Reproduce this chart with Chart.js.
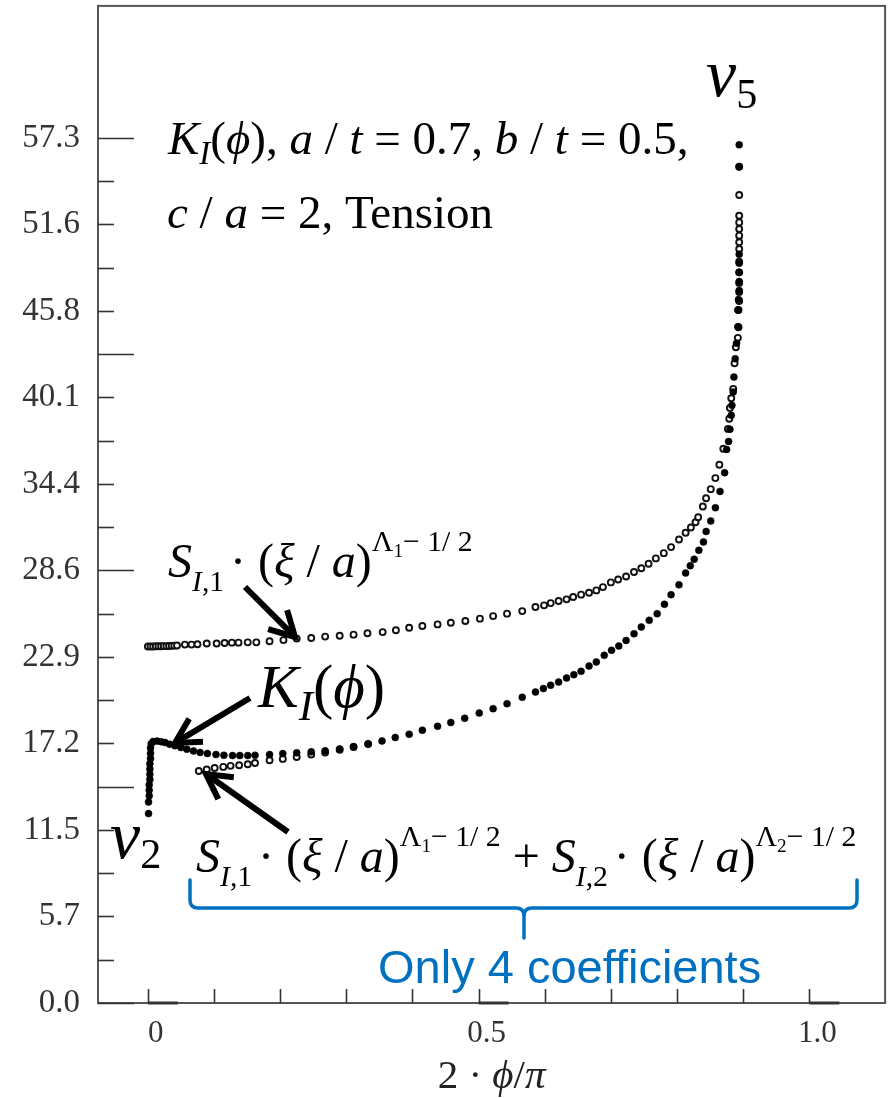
<!DOCTYPE html>
<html>
<head>
<meta charset="utf-8">
<script src="https://cdn.jsdelivr.net/npm/chart.js@4.4.1/dist/chart.umd.min.js"></script>
<style>
  html, body { margin: 0; padding: 0; background: #fff; }
  #wrap { width: 891px; height: 1098px; position: relative; }
</style>
</head>
<body>
<div id="wrap"><canvas id="kiChart"></canvas></div>
<script>
// K_I along the crack front, x = 2*phi/pi
const kiX = [0.001, 0.001, 0.002, 0.002, 0.002, 0.003, 0.003, 0.003, 0.003, 0.004, 0.004, 0.004, 0.005,
  0.008, 0.014, 0.020, 0.026, 0.033, 0.041, 0.050, 0.059, 0.069, 0.079, 0.090, 0.103, 0.115, 0.128, 0.139,
  0.151, 0.162, 0.184, 0.204, 0.225, 0.247, 0.268, 0.290, 0.311, 0.333, 0.354, 0.374, 0.395, 0.415, 0.438,
  0.458, 0.479, 0.501, 0.522, 0.543, 0.566, 0.586, 0.598, 0.609, 0.621, 0.633, 0.644, 0.655, 0.667, 0.678,
  0.690, 0.701, 0.712, 0.723, 0.735, 0.746, 0.758, 0.770, 0.781, 0.791, 0.803, 0.813, 0.820, 0.826, 0.833,
  0.840, 0.844, 0.851, 0.858, 0.865, 0.872, 0.875, 0.878, 0.880, 0.882, 0.883, 0.885, 0.886, 0.888, 0.890,
  0.892, 0.892, 0.893, 0.894, 0.894, 0.894, 0.894, 0.894, 0.894, 0.894];
const kiY = [12.55, 13.32, 13.73, 14.10, 14.45, 14.80, 15.15, 15.50, 15.85, 16.20, 16.55, 16.90, 17.18,
  17.33, 17.35, 17.31, 17.25, 17.14, 17.04, 16.92, 16.81, 16.70, 16.60, 16.52, 16.46, 16.41, 16.39, 16.39,
  16.39, 16.41, 16.46, 16.52, 16.57, 16.64, 16.71, 16.83, 16.98, 17.17, 17.36, 17.59, 17.80, 18.07, 18.33,
  18.58, 18.86, 19.21, 19.50, 19.83, 20.25, 20.60, 20.83, 21.05, 21.26, 21.53, 21.75, 21.97, 22.32, 22.59,
  23.03, 23.36, 23.65, 24.02, 24.46, 24.91, 25.35, 25.79, 26.41, 27.05, 27.70, 28.48, 28.97, 29.40, 29.99,
  30.54, 31.24, 31.93, 32.81, 33.89, 35.13, 36.67, 37.20, 38.00, 38.93, 39.59, 40.47, 41.46, 42.68, 43.70,
  44.80, 45.90, 46.60, 47.20, 47.80, 48.40, 49.00, 49.60, 55.40, 56.85];

// first singular term only
const oneTermX = [0.000, 0.004, 0.008, 0.012, 0.016, 0.020, 0.024, 0.028, 0.032, 0.036, 0.040, 0.044,
  0.056, 0.066, 0.075, 0.089, 0.104, 0.116, 0.127, 0.137, 0.151, 0.164, 0.184, 0.205, 0.225, 0.247, 0.268,
  0.290, 0.311, 0.332, 0.355, 0.375, 0.395, 0.415, 0.438, 0.458, 0.480, 0.502, 0.522, 0.543, 0.566, 0.586,
  0.599, 0.609, 0.621, 0.633, 0.643, 0.655, 0.667, 0.678, 0.688, 0.700, 0.711, 0.723, 0.735, 0.746, 0.757,
  0.768, 0.780, 0.791, 0.803, 0.813, 0.821, 0.828, 0.832, 0.839, 0.844, 0.851, 0.858, 0.864, 0.870, 0.877,
  0.879, 0.880, 0.882, 0.885, 0.887, 0.889, 0.892, 0.893, 0.893, 0.894, 0.894, 0.894, 0.894, 0.894, 0.894,
  0.894, 0.894, 0.894, 0.894, 0.894, 0.894, 0.894];
const oneTermY = [23.62, 23.62, 23.62, 23.63, 23.63, 23.63, 23.64, 23.64, 23.65, 23.66, 23.67, 23.68,
  23.74, 23.74, 23.76, 23.81, 23.81, 23.85, 23.87, 23.87, 23.89, 23.89, 23.96, 24.04, 24.14, 24.18, 24.27,
  24.33, 24.40, 24.49, 24.57, 24.69, 24.86, 24.97, 25.08, 25.19, 25.30, 25.46, 25.63, 25.79, 25.96, 26.23,
  26.34, 26.49, 26.63, 26.74, 26.89, 27.05, 27.18, 27.33, 27.55, 27.86, 28.05, 28.25, 28.55, 28.80, 29.10,
  29.45, 29.80, 30.20, 30.70, 31.15, 31.50, 31.85, 32.18, 32.89, 33.44, 34.04, 34.77, 35.65, 36.71, 38.03,
  38.70, 39.42, 40.06, 40.68, 42.38, 43.44, 44.06, 44.76, 45.91, 46.50, 47.10, 47.70, 48.40, 49.10, 49.95,
  50.39, 50.83, 51.27, 51.71, 52.15, 53.52, 55.39, 58.11];

// first two singular terms
const twoTermX = [0.077, 0.089, 0.101, 0.114, 0.125, 0.138, 0.151, 0.162, 0.184, 0.204, 0.225, 0.247,
  0.268, 0.290, 0.311, 0.333];
const twoTermY = [15.37, 15.47, 15.57, 15.64, 15.71, 15.75, 15.82, 15.90, 16.08, 16.17, 16.30, 16.46,
  16.59, 16.78, 16.96, 17.15];

// axis ticks
const yTickValues = [0, 5.73, 11.46, 17.19, 22.92, 28.65, 34.38, 40.11, 45.84, 51.57, 57.3];
const yTickLabels = ['0.0', '5.7', '11.5', '17.2', '22.9', '28.6', '34.4', '40.1', '45.8', '51.6', '57.3'];
const yLongTicks = [0, 14.325, 28.65, 42.975, 57.3];
const xTickValues = [0, 0.1, 0.2, 0.3, 0.4, 0.5, 0.6, 0.7, 0.8, 0.9, 1.0];
const xTickLabels = ['0', '', '', '', '', '0.5', '', '', '', '', '1.0'];

const toPoints = (xs, ys) => xs.map((x, i) => ({ x, y: ys[i] }));

const SERIF = '"Liberation Serif", "Times New Roman", serif';
const BLUE = '#0070C0';

// draw a run of mixed italic / upright / shifted pieces, returns end x
function drawRich(ctx, x, y, size, parts) {
  let cx = x;
  parts.forEach(p => {
    const s = size * (p.k || 1);
    ctx.font = (p.i ? 'italic ' : '') + s + 'px ' + SERIF;
    ctx.fillText(p.t, cx, y + (p.dy || 0) * size);
    cx += ctx.measureText(p.t).width + (p.g || 0) * size;
  });
  return cx;
}

function drawArrow(ctx, x1, y1, x2, y2) {
  const ang = Math.atan2(y2 - y1, x2 - x1);
  const head = 28;
  ctx.beginPath();
  ctx.moveTo(x1, y1);
  ctx.lineTo(x2 - Math.cos(ang) * 4, y2 - Math.sin(ang) * 4);
  ctx.stroke();
  ctx.beginPath();
  ctx.moveTo(x2 - head * Math.cos(ang - 0.5), y2 - head * Math.sin(ang - 0.5));
  ctx.lineTo(x2, y2);
  ctx.lineTo(x2 - head * Math.cos(ang + 0.5), y2 - head * Math.sin(ang + 0.5));
  ctx.stroke();
}

const sTerm = (idx, lam) => [
  { t: 'S', i: true },
  { t: 'I', i: true, k: 0.62, dy: 0.3 },
  { t: ',' + idx, k: 0.62, dy: 0.3, g: 0.12 },
  { t: '\u00b7 (' },
  { t: '\u03be', i: true },
  { t: ' / ' },
  { t: 'a', i: true },
  { t: ')' },
  { t: '\u039b', k: 0.62, dy: -0.55 },
  { t: lam, k: 0.4, dy: -0.42 },
  { t: '\u2212 1/ 2', k: 0.62, dy: -0.55 }
];

const overlay = {
  id: 'overlay',
  afterDraw(chart) {
    const { ctx, chartArea: a, scales: { x, y } } = chart;
    ctx.save();

    // frame
    ctx.strokeStyle = '#555';
    ctx.lineWidth = 2;
    ctx.strokeRect(a.left, a.top, a.right - a.left, a.bottom - a.top);

    // inward ticks on y, minor ticks halfway between labels
    ctx.strokeStyle = '#333';
    ctx.lineWidth = 1.6;
    const yAll = [];
    yTickValues.forEach((v, i) => {
      yAll.push(v);
      if (i < yTickValues.length - 1) yAll.push((v + yTickValues[i + 1]) / 2);
    });
    yAll.forEach(v => {
      const long = yLongTicks.some(l => Math.abs(l - v) < 0.01);
      const py = Math.round(y.getPixelForValue(v)) + 0.5;
      ctx.beginPath();
      ctx.moveTo(a.left, py);
      ctx.lineTo(a.left + (long ? 36 : 16), py);
      ctx.stroke();
    });

    // inward ticks on x
    xTickValues.forEach(v => {
      const px = Math.round(x.getPixelForValue(v)) + 0.5;
      ctx.beginPath();
      ctx.moveTo(px, a.bottom);
      ctx.lineTo(px, a.bottom - 14);
      ctx.stroke();
    });
    ctx.lineWidth = 3;
    [0, 0.5, 1.0].forEach(v => {
      const px = x.getPixelForValue(v);
      ctx.beginPath();
      ctx.moveTo(px, a.bottom);
      ctx.lineTo(px + 30, a.bottom);
      ctx.stroke();
    });

    // x title
    ctx.fillStyle = '#222';
    ctx.textBaseline = 'alphabetic';
    ctx.textAlign = 'left';
    const titleParts = [{ t: '2 \u00b7 ' }, { t: '\u03d5', i: true }, { t: '/' }, { t: '\u03c0', i: true }];
    ctx.globalAlpha = 0;
    const tw = drawRich(ctx, 0, 0, 41, titleParts);
    ctx.globalAlpha = 1;
    drawRich(ctx, (a.left + a.right) / 2 - tw / 2, 1088, 41, titleParts);

    // annotations
    ctx.fillStyle = '#000';
    drawRich(ctx, 168, 154, 47, [
      { t: 'K', i: true }, { t: 'I', i: true, k: 0.7, dy: 0.22 }, { t: '(' }, { t: '\u03d5', i: true },
      { t: '), ' }, { t: 'a', i: true }, { t: ' / ' }, { t: 't', i: true }, { t: ' = 0.7, ' },
      { t: 'b', i: true }, { t: ' / ' }, { t: 't', i: true }, { t: ' = 0.5,' }
    ]);
    drawRich(ctx, 167, 228, 47, [
      { t: 'c', i: true }, { t: ' / ' }, { t: 'a', i: true }, { t: ' = 2, Tension' }
    ]);

    drawRich(ctx, 706, 96, 68, [{ t: '\u03bd', i: true }, { t: '5', k: 0.62, dy: 0.18 }]);
    drawRich(ctx, 110, 858, 68, [{ t: '\u03bd', i: true }, { t: '2', k: 0.62, dy: 0.14 }]);

    drawRich(ctx, 168, 577, 48, sTerm('1', '1'));
    drawRich(ctx, 258, 707, 61, [
      { t: 'K', i: true }, { t: 'I', i: true, k: 0.7, dy: 0.22 }, { t: '(' }, { t: '\u03d5', i: true }, { t: ')' }
    ]);
    const endX = drawRich(ctx, 196, 872, 48, sTerm('1', '1'));
    drawRich(ctx, endX, 872, 48, [{ t: ' + ' }].concat(sTerm('2', '2')));

    // arrows
    ctx.strokeStyle = '#000';
    ctx.lineWidth = 6;
    ctx.lineCap = 'butt';
    ctx.lineJoin = 'miter';
    drawArrow(ctx, 245, 587, 295, 637);
    drawArrow(ctx, 250, 698, 175, 743);
    drawArrow(ctx, 288, 832, 206, 774);

    // brace under the two-term label
    ctx.strokeStyle = BLUE;
    ctx.lineWidth = 3.5;
    ctx.lineCap = 'round';
    ctx.beginPath();
    ctx.moveTo(190, 880);
    ctx.lineTo(190, 900);
    ctx.quadraticCurveTo(190, 908, 198, 908);
    ctx.lineTo(516, 908);
    ctx.quadraticCurveTo(524, 908, 524, 916);
    ctx.lineTo(524, 938);
    ctx.moveTo(524, 916);
    ctx.quadraticCurveTo(524, 908, 532, 908);
    ctx.lineTo(849, 908);
    ctx.quadraticCurveTo(857, 908, 857, 900);
    ctx.lineTo(857, 880);
    ctx.stroke();

    ctx.fillStyle = BLUE;
    ctx.font = '47px "Liberation Sans", Arial, sans-serif';
    ctx.fillText('Only 4 coefficients', 378, 983);

    ctx.restore();
  }
};

new Chart(document.getElementById('kiChart'), {
  type: 'scatter',
  data: {
    datasets: [
      {
        label: 'K_I',
        data: toPoints(kiX, kiY),
        pointRadius: 3.5,
        pointBackgroundColor: '#000',
        pointBorderColor: '#000',
        pointBorderWidth: 0.5
      },
      {
        label: 'two terms',
        data: toPoints(twoTermX, twoTermY),
        pointRadius: 3,
        pointBackgroundColor: '#fff',
        pointBorderColor: '#111',
        pointBorderWidth: 1.9
      },
      {
        label: 'one term',
        data: toPoints(oneTermX, oneTermY),
        pointRadius: 3,
        pointBackgroundColor: '#fff',
        pointBorderColor: '#111',
        pointBorderWidth: 1.9
      }
    ]
  },
  options: {
    responsive: true,
    maintainAspectRatio: false,
    animation: false,
    events: [],
    layout: { padding: { top: 5, right: 4, left: 0, bottom: 0 } },
    plugins: { legend: { display: false }, tooltip: { enabled: false } },
    scales: {
      x: {
        type: 'linear',
        min: -0.0754,
        max: 1.1146,
        grid: { display: false, drawTicks: false },
        border: { display: false },
        afterBuildTicks: s => { s.ticks = xTickValues.map(v => ({ value: v })); },
        afterFit: s => { s.height = 95; s.paddingLeft = 0; s.paddingRight = 0; },
        ticks: {
          autoSkip: false,
          maxRotation: 0,
          padding: 12,
          labelOffset: 8,
          color: '#333',
          font: { family: SERIF, size: 31 },
          callback: (v, i) => xTickLabels[i]
        }
      },
      y: {
        min: 0,
        max: 66.05,
        grid: { display: false, drawTicks: false },
        border: { display: false },
        afterBuildTicks: s => { s.ticks = yTickValues.map(v => ({ value: v })); },
        afterFit: s => { s.width = 98; s.paddingTop = 0; s.paddingBottom = 0; },
        ticks: {
          autoSkip: false,
          padding: 18,
          color: '#333',
          font: { family: SERIF, size: 33 },
          callback: (v, i) => yTickLabels[i]
        }
      }
    }
  },
  plugins: [overlay]
});
</script>
</body>
</html>
